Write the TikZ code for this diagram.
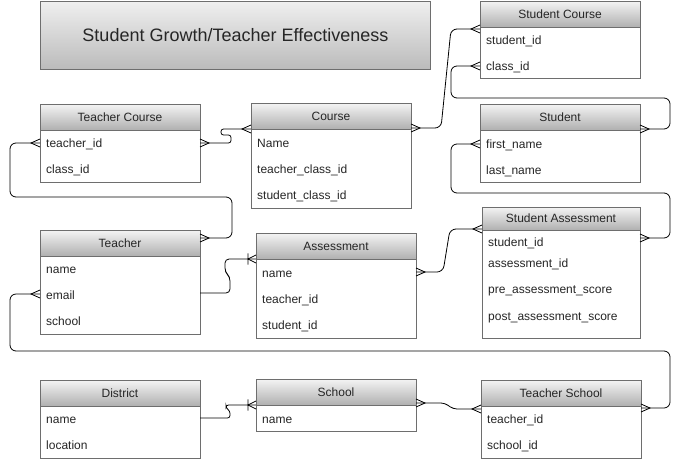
\documentclass[tikz,border=0pt]{standalone}
\usepackage{fontspec}
\setmainfont{Liberation Sans}
\usetikzlibrary{arrows.meta}
\definecolor{boxgray}{HTML}{6E6E6E}
\definecolor{hdrtop}{HTML}{F4F4F4}
\definecolor{hdrbot}{HTML}{B0B0B0}
\definecolor{ttltop}{HTML}{EFEFEF}
\definecolor{ttlbot}{HTML}{BBBBBB}
\newcommand{\erfont}{\fontsize{12}{14}\selectfont}
\newcommand{\ertitlefont}{\fontsize{18}{20}\selectfont}
\pgfdeclarearrow{
  name=crow,
  parameters={\the\pgfarrowlength,\the\pgfarrowwidth},
  setup code={
    \pgfarrowssettipend{0pt}
    \pgfarrowssetlineend{0pt}
    \pgfarrowssetbackend{-\pgfarrowlength}
    \pgfarrowssavethe\pgfarrowlength
    \pgfarrowssavethe\pgfarrowwidth
  },
  drawing code={
    \pgfsetdash{}{0pt}
    \pgfpathmoveto{\pgfqpoint{0pt}{.5\pgfarrowwidth}}
    \pgfpathlineto{\pgfqpoint{-\pgfarrowlength}{0pt}}
    \pgfpathlineto{\pgfqpoint{0pt}{-.5\pgfarrowwidth}}
    \pgfusepathqstroke
  },
  defaults={length=9pt,width=8pt}
}
\pgfdeclarearrow{
  name=onecrow,
  parameters={\the\pgfarrowlength,\the\pgfarrowwidth},
  setup code={
    \pgfarrowssettipend{0pt}
    \pgfarrowssetlineend{0pt}
    \pgfarrowssetbackend{-\pgfarrowlength}
    \pgfarrowssavethe\pgfarrowlength
    \pgfarrowssavethe\pgfarrowwidth
  },
  drawing code={
    \pgfsetdash{}{0pt}
    \pgfpathmoveto{\pgfqpoint{0pt}{.5\pgfarrowwidth}}
    \pgfpathlineto{\pgfqpoint{-\pgfarrowlength}{0pt}}
    \pgfpathlineto{\pgfqpoint{0pt}{-.5\pgfarrowwidth}}
    \pgfpathmoveto{\pgfqpoint{-\pgfarrowlength}{.7\pgfarrowwidth}}
    \pgfpathlineto{\pgfqpoint{-\pgfarrowlength}{-.7\pgfarrowwidth}}
    \pgfusepathqstroke
  },
  defaults={length=8pt,width=8pt}
}
\tikzset{
  ent/.style={draw=boxgray, fill=white, line width=0.8pt, minimum width=160pt,
    anchor=north west, inner sep=0pt, outer sep=0pt},
  hdr/.style={draw=boxgray, top color=hdrtop, bottom color=hdrbot, line width=0.8pt,
    minimum width=160pt, minimum height=26pt, anchor=north west, inner sep=0pt,
    outer sep=0pt, font=\erfont, text=black!85, text height=9pt, text depth=1pt},
  fld/.style={anchor=west, inner sep=0pt, font=\erfont, text=black!85,
    text height=9pt, text depth=1pt},
  conn/.style={draw=black, line width=0.8pt, rounded corners=6pt},
  jog/.style={rounded corners=2.5pt},
}
\begin{document}
\begin{tikzpicture}[x=1pt,y=-1pt]
\useasboundingbox (0,0) rectangle (682,461);

% title
\node[draw=boxgray, line width=0.8pt, top color=ttltop, bottom color=ttlbot,
  minimum width=390pt, minimum height=68pt, anchor=north west, inner sep=0pt,
  font=\ertitlefont, text=black!85] (title) at (40,1) {Student Growth/Teacher Effectiveness};

% Student Course
\node[ent, minimum height=77pt] (stc) at (480,1) {};
\node[hdr] (stch) at (stc.north west) {Student Course};
\node[fld] (stc1) at (486,40) {student\_id};
\node[fld] (stc2) at (486,66) {class\_id};

% Student
\node[ent, minimum height=78pt] (std) at (480,104) {};
\node[hdr] (stdh) at (std.north west) {Student};
\node[fld] (std1) at (486,144) {first\_name};
\node[fld] (std2) at (486,170) {last\_name};

% Student Assessment
\node[ent, minimum width=158pt, minimum height=131pt] (sas) at (482,207) {};
\node[hdr, minimum width=158pt, minimum height=23pt] (sash) at (sas.north west) {Student Assessment};
\node[fld] (sas1) at (488,242) {student\_id};
\node[fld] (sas2) at (488,263) {assessment\_id};
\node[fld] (sas3) at (488,289) {pre\_assessment\_score};
\node[fld] (sas4) at (488,316) {post\_assessment\_score};

% Teacher Course
\node[ent, minimum height=78pt] (tcc) at (40,104) {};
\node[hdr] (tcch) at (tcc.north west) {Teacher Course};
\node[fld] (tcc1) at (46,143) {teacher\_id};
\node[fld] (tcc2) at (46,169) {class\_id};

% Course
\node[ent, minimum height=105pt] (crs) at (251,103) {};
\node[hdr] (crsh) at (crs.north west) {Course};
\node[fld] (crs1) at (257,143) {Name};
\node[fld] (crs2) at (257,169) {teacher\_class\_id};
\node[fld] (crs3) at (257,195) {student\_class\_id};

% Teacher
\node[ent, minimum height=104pt] (tch) at (40,230) {};
\node[hdr] (tchh) at (tch.north west) {Teacher};
\node[fld] (tch1) at (46,269) {name};
\node[fld] (tch2) at (46,295) {email};
\node[fld] (tch3) at (46,321) {school};

% Assessment
\node[ent, minimum height=105pt] (asm) at (256,233) {};
\node[hdr] (asmh) at (asm.north west) {Assessment};
\node[fld] (asm1) at (262,273) {name};
\node[fld] (asm2) at (262,299) {teacher\_id};
\node[fld] (asm3) at (262,325) {student\_id};

% District
\node[ent, minimum height=78pt] (dst) at (40,380) {};
\node[hdr] (dsth) at (dst.north west) {District};
\node[fld] (dst1) at (46,419) {name};
\node[fld] (dst2) at (46,445) {location};

% School
\node[ent, minimum height=52pt] (sch) at (256,379) {};
\node[hdr] (schh) at (sch.north west) {School};
\node[fld] (sch1) at (262,419) {name};

% Teacher School
\node[ent, minimum height=78pt] (tsc) at (481,380) {};
\node[hdr] (tsch) at (tsc.north west) {Teacher School};
\node[fld] (tsc1) at (487,419) {teacher\_id};
\node[fld] (tsc2) at (487,445) {school\_id};

% connectors
\draw[conn, crow-crow] ([yshift=-25pt]crs.north east) -- (441,128) -- (451,29) -- ([yshift=-28pt]stc.north west);
\draw[conn, crow-crow] ([yshift=-65pt]stc.north west) -- (451,66) -- (451,98) -- (670,98) -- (670,129) -- ([yshift=-25pt]std.north east);
\draw[conn, crow-crow] ([yshift=-40pt]std.north west) -- (451,144) -- (451,193) -- (670,193) -- (670,238) -- ([yshift=-31pt]sas.north east);
\draw[conn, crow-crow] ([yshift=-39pt]asm.north east) -- (443,272) -- (450,229) -- ([yshift=-22pt]sas.north west);
\draw[conn, crow-crow] ([yshift=-39pt]tcc.north west) -- (10,143) -- (10,197) -- (232,197) -- (232,238) -- ([yshift=-8pt]tch.north east);
\draw[conn, jog, crow-crow] ([yshift=-39pt]tcc.north east) -- (231,143) -- (231,135) -- (221,135) -- (221,129) -- ([yshift=-26pt]crs.north west);
\draw[conn, rounded corners=4pt, -onecrow] ([yshift=-63pt]tch.north east) -- (230,293) -- (230,277) -- (225,272) -- (225,259) -- ([yshift=-26pt]asm.north west);
\draw[conn, crow-crow] ([yshift=-64pt]tch.north west) -- (10,294) -- (10,351) -- (670,351) -- (670,408) -- ([yshift=-28pt]tsc.north east);
\draw[conn, rounded corners=4pt, crow-crow] ([yshift=-24pt]sch.north east) -- (445,403) -- (453,409) -- ([yshift=-29pt]tsc.north west);
\draw[conn, jog, -onecrow] ([yshift=-38pt]dst.north east) -- (230,418) -- (230,411) -- (226,408) -- (226,405) -- ([yshift=-26pt]sch.north west);
\end{tikzpicture}
\end{document}
